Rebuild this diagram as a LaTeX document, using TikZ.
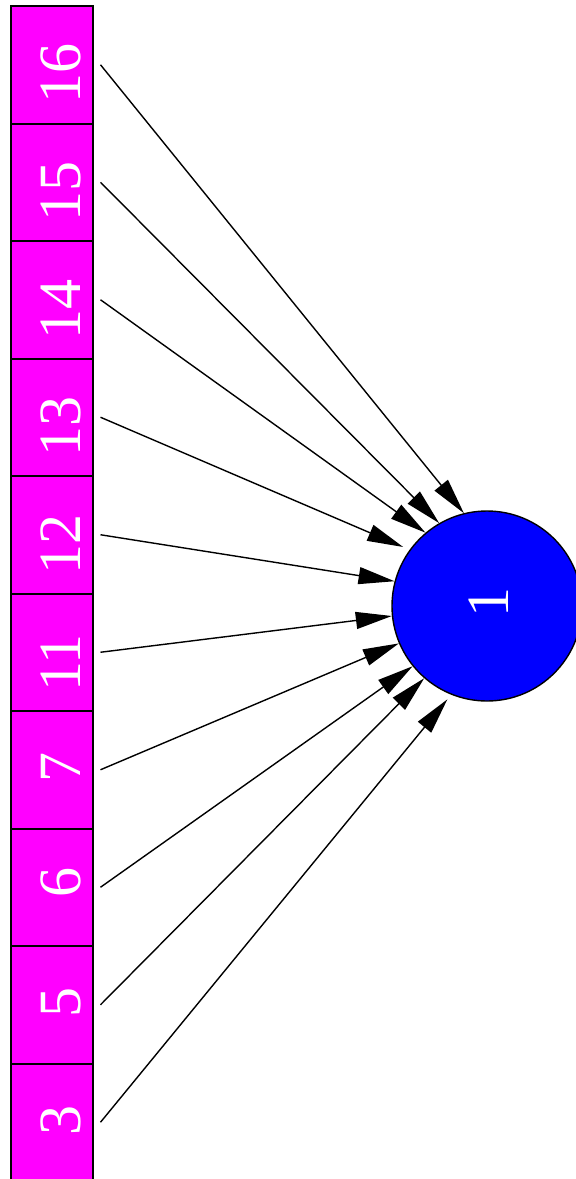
\documentclass[tikz,border=0pt]{standalone}
\usepackage{fontspec}
\setmainfont{Liberation Serif}
\usetikzlibrary{arrows.meta,backgrounds}
\definecolor{mag}{RGB}{255,0,255}
\definecolor{blu}{RGB}{0,0,255}
\begin{document}
\begin{tikzpicture}[x=1pt,y=-1pt,
  cell/.style={draw=black,line width=2pt,minimum width=82pt,minimum height=117.5pt,inner sep=0pt,outer xsep=8pt,outer ysep=0pt},
  lbl/.style={text=white,rotate=90,inner sep=0pt,font=\fontsize{60}{72}\selectfont},
  ball/.style={circle,draw=black,line width=1.4pt,fill=blu,minimum size=190pt,inner sep=0pt},
  edge/.style={line width=1.4pt,-{Triangle[length=36pt,width=17pt]}}]
\useasboundingbox (0,0) rectangle (576,1179);
\node[cell] (c16) at (51.5,64.75) {};
\node[cell] (c15) at (51.5,182.25) {};
\node[cell] (c14) at (51.5,299.75) {};
\node[cell] (c13) at (51.5,417.25) {};
\node[cell] (c12) at (51.5,534.75) {};
\node[cell] (c11) at (51.5,652.25) {};
\node[cell] (c7) at (51.5,769.75) {};
\node[cell] (c6) at (51.5,887.25) {};
\node[cell] (c5) at (51.5,1004.75) {};
\node[cell] (c3) at (51.5,1122.25) {};
\begin{scope}[on background layer]
\fill[mag] (10.5,6) rectangle (92.5,1181);
\end{scope}
\node[lbl] (t16) at (61,73) {16};
\node[lbl] (t15) at (61,191) {15};
\node[lbl] (t14) at (61,309) {14};
\node[lbl] (t13) at (61,426) {13};
\node[lbl] (t12) at (61,544) {12};
\node[lbl] (t11) at (61,663) {11};
\node[lbl] (t7) at (61,767) {7};
\node[lbl] (t6) at (61,882) {6};
\node[lbl] (t5) at (61,1002) {5};
\node[lbl] (t3) at (61,1120) {3};
\node[ball] (n1) at (487,606) {};
\node[lbl] (t1) at (489,602) {1};
\draw[edge] (c16.east) -- (n1.104.7);
\draw[edge] (c15.east) -- (n1.120.5);
\draw[edge] (c14.east) -- (n1.130.3);
\draw[edge,shorten >=7pt] (c13.east) -- (n1.144.5);
\draw[edge] (c12.east) -- (n1.165.7);
\draw[edge] (c11.east) -- (n1.186.7);
\draw[edge] (c7.east) -- (n1.203.2);
\draw[edge] (c6.east) -- (n1.219.3);
\draw[edge] (c5.east) -- (n1.229.3);
\draw[edge,shorten >=6pt] (c3.east) -- (n1.248.5);
\end{tikzpicture}
\end{document}
